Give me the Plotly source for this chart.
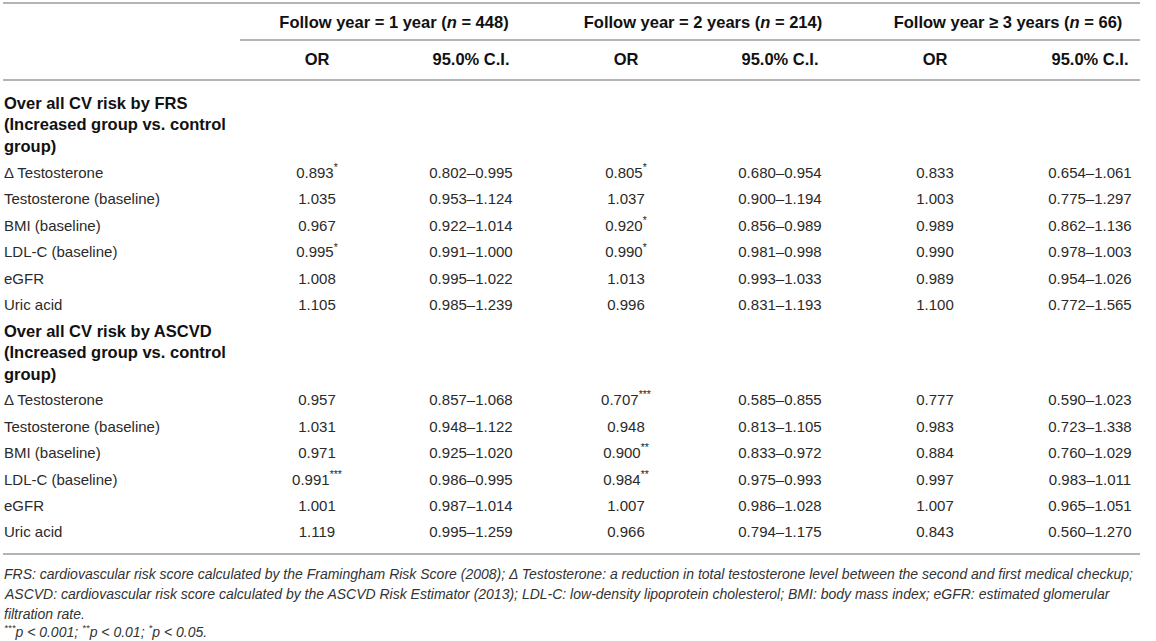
import plotly.graph_objects as go

# ---------------- data ----------------
group_headers = [
    "Follow year = 1 year (<i>n</i> = 448)",
    "Follow year = 2 years (<i>n</i> = 214)",
    "Follow year ≥ 3 years (<i>n</i> = 66)",
]
sub_headers = ["OR", "95.0% C.I."]

section_titles = [
    ["Over all CV risk by FRS", "(Increased group vs. control", "group)"],
    ["Over all CV risk by ASCVD", "(Increased group vs. control", "group)"],
]
variables = ["Δ Testosterone", "Testosterone (baseline)", "BMI (baseline)",
             "LDL-C (baseline)", "eGFR", "Uric acid"]

# FRS section: OR per follow-up group, significance stars, CI lower/upper
frs_or_y1 = ["0.893", "1.035", "0.967", "0.995", "1.008", "1.105"]
frs_sig_y1 = ["*", "", "", "*", "", ""]
frs_lo_y1 = ["0.802", "0.953", "0.922", "0.991", "0.995", "0.985"]
frs_hi_y1 = ["0.995", "1.124", "1.014", "1.000", "1.022", "1.239"]

frs_or_y2 = ["0.805", "1.037", "0.920", "0.990", "1.013", "0.996"]
frs_sig_y2 = ["*", "", "*", "*", "", ""]
frs_lo_y2 = ["0.680", "0.900", "0.856", "0.981", "0.993", "0.831"]
frs_hi_y2 = ["0.954", "1.194", "0.989", "0.998", "1.033", "1.193"]

frs_or_y3 = ["0.833", "1.003", "0.989", "0.990", "0.989", "1.100"]
frs_sig_y3 = ["", "", "", "", "", ""]
frs_lo_y3 = ["0.654", "0.775", "0.862", "0.978", "0.954", "0.772"]
frs_hi_y3 = ["1.061", "1.297", "1.136", "1.003", "1.026", "1.565"]

# ASCVD section
asc_or_y1 = ["0.957", "1.031", "0.971", "0.991", "1.001", "1.119"]
asc_sig_y1 = ["", "", "", "***", "", ""]
asc_lo_y1 = ["0.857", "0.948", "0.925", "0.986", "0.987", "0.995"]
asc_hi_y1 = ["1.068", "1.122", "1.020", "0.995", "1.014", "1.259"]

asc_or_y2 = ["0.707", "0.948", "0.900", "0.984", "1.007", "0.966"]
asc_sig_y2 = ["***", "", "**", "**", "", ""]
asc_lo_y2 = ["0.585", "0.813", "0.833", "0.975", "0.986", "0.794"]
asc_hi_y2 = ["0.855", "1.105", "0.972", "0.993", "1.028", "1.175"]

asc_or_y3 = ["0.777", "0.983", "0.884", "0.997", "1.007", "0.843"]
asc_sig_y3 = ["", "", "", "", "", ""]
asc_lo_y3 = ["0.590", "0.723", "0.760", "0.983", "0.965", "0.560"]
asc_hi_y3 = ["1.023", "1.338", "1.029", "1.011", "1.051", "1.270"]

footnotes = [
    "FRS: cardiovascular risk score calculated by the Framingham Risk Score (2008); Δ Testosterone: a reduction in total testosterone level between the second and first medical checkup;",
    "ASCVD: cardiovascular risk score calculated by the ASCVD Risk Estimator (2013); LDL-C: low-density lipoprotein cholesterol; BMI: body mass index; eGFR: estimated glomerular",
    "filtration rate.",
    "<sup>***</sup>p < 0.001; <sup>**</sup>p < 0.01; <sup>*</sup>p < 0.05.",
]

# ---------------- layout constants ----------------
W, H = 1156, 641
FONT = "Liberation Sans, Arial, sans-serif"
TXT = "#2a2a2a"
HDR = "#111111"
LINE = "#b4b4b4"
col_x = [317, 471, 626, 780, 935, 1090]
grp_x = [394, 703, 1008]
label_x = 3
hdr_y = [23, 60]
sec_title_y = [[104, 125, 147], [332, 353, 375]]
sec_row_y = [[173, 199.5, 226, 252.5, 279, 305.5],
             [400, 427, 453, 480, 506, 532]]
foot_y = [575, 595, 615, 632]

fig = go.Figure()


def add_text(xs, ys, texts, size=15, color=TXT, bold=False):
    if bold:
        texts = ["<b>%s</b>" % t for t in texts]
    fig.add_trace(go.Scatter(
        x=xs, y=[y + 1 for y in ys], text=texts, mode="text",
        textposition="middle center",
        textfont=dict(family=FONT, size=size, color=color),
        hoverinfo="skip", showlegend=False, cliponaxis=False))


def add_left(ys, texts, size=15, color=TXT, bold=False, italic=False):
    for y, t in zip(ys, texts):
        if bold:
            t = "<b>%s</b>" % t
        if italic:
            t = "<i>%s</i>" % t
        fig.add_annotation(x=label_x, y=y - 1, xref="x", yref="y", text=t,
                           showarrow=False, xanchor="left", yanchor="middle",
                           align="left", borderpad=0,
                           font=dict(family=FONT, size=size, color=color))


# header
add_text(grp_x, [hdr_y[0]] * 3, group_headers, size=16.5, color=HDR, bold=True)
add_text(col_x, [hdr_y[1]] * 6, sub_headers * 3, size=16.5, color=HDR, bold=True)

sections = [
    [(frs_or_y1, frs_sig_y1, frs_lo_y1, frs_hi_y1),
     (frs_or_y2, frs_sig_y2, frs_lo_y2, frs_hi_y2),
     (frs_or_y3, frs_sig_y3, frs_lo_y3, frs_hi_y3)],
    [(asc_or_y1, asc_sig_y1, asc_lo_y1, asc_hi_y1),
     (asc_or_y2, asc_sig_y2, asc_lo_y2, asc_hi_y2),
     (asc_or_y3, asc_sig_y3, asc_lo_y3, asc_hi_y3)],
]

for s, groups in enumerate(sections):
    add_left(sec_title_y[s], section_titles[s], size=16.5, color=HDR, bold=True)
    ys = sec_row_y[s]
    add_left(ys, variables)
    for g, (ors, sig, lo, hi) in enumerate(groups):
        or_txt = [o + ("<sup>%s</sup>" % st if st else "") for o, st in zip(ors, sig)]
        ci_txt = ["%s–%s" % (a, b) for a, b in zip(lo, hi)]
        add_text([col_x[2 * g]] * len(ys), ys, or_txt)
        add_text([col_x[2 * g + 1]] * len(ys), ys, ci_txt)

add_left(foot_y, footnotes, size=14, color="#333333", italic=True)

# rules
for (x0, x1, y) in [(3, 1140, 3), (240, 1140, 40), (3, 1140, 80), (3, 1140, 554)]:
    fig.add_shape(type="line", x0=x0, x1=x1, y0=y, y1=y, xref="x", yref="y",
                  line=dict(color=LINE, width=2))

fig.update_layout(
    width=W, height=H, margin=dict(l=0, r=0, t=0, b=0),
    paper_bgcolor="white", plot_bgcolor="white",
    xaxis=dict(range=[0, W], visible=False, fixedrange=True),
    yaxis=dict(range=[H, 0], visible=False, fixedrange=True),
)

fig.write_html("out.html",
               config={"displayModeBar": False, "staticPlot": True},
               post_script="document.body.style.margin='0px';"
                           "document.body.style.overflow='hidden';")
